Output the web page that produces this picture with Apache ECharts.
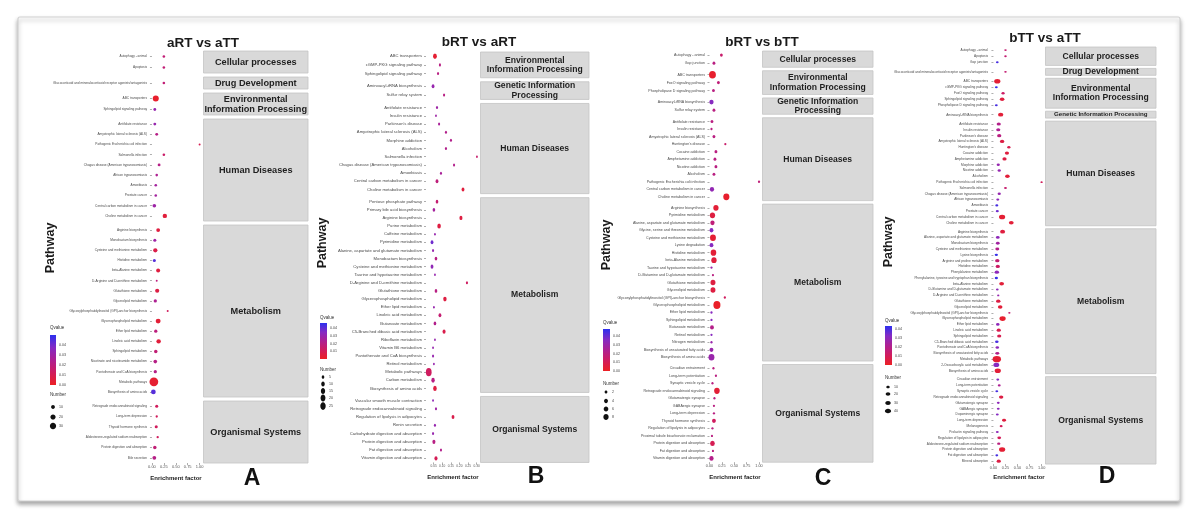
<!DOCTYPE html>
<html><head><meta charset="utf-8">
<script src="https://cdn.jsdelivr.net/npm/echarts@6/dist/echarts.min.js"></script>
<style>html,body{margin:0;padding:0;background:#fff}#c{width:1198px;height:530px}</style>
</head><body><div id="c"></div>
<script>
// ---------------- DATA ----------------
// Panel A: aRT vs aTT
const A_pathway = ["Autophagy - animal","Apoptosis","Glucocorticoid and mineralocorticoid receptor agonists/antagonists","ABC transporters","Sphingolipid signaling pathway","Antifolate resistance","Amyotrophic lateral sclerosis (ALS)","Pathogenic Escherichia coli infection","Salmonella infection","Chagas disease (American trypanosomiasis)","African trypanosomiasis","Amoebiasis","Prostate cancer","Central carbon metabolism in cancer","Choline metabolism in cancer","Arginine biosynthesis","Monobactam biosynthesis","Cysteine and methionine metabolism","Histidine metabolism","beta-Alanine metabolism","D-Arginine and D-ornithine metabolism","Glutathione metabolism","Glycerolipid metabolism","Glycosylphosphatidylinositol (GPI)-anchor biosynthesis","Glycerophospholipid metabolism","Ether lipid metabolism","Linoleic acid metabolism","Sphingolipid metabolism","Nicotinate and nicotinamide metabolism","Pantothenate and CoA biosynthesis","Metabolic pathways","Biosynthesis of amino acids","Retrograde endocannabinoid signaling","Long-term depression","Thyroid hormone synthesis","Aldosterone-regulated sodium reabsorption","Protein digestion and absorption","Bile secretion"];
const A_class = ["CP","CP","DD","EIP","EIP","HD","HD","HD","HD","HD","HD","HD","HD","HD","HD","M","M","M","M","M","M","M","M","M","M","M","M","M","M","M","M","M","OS","OS","OS","OS","OS","OS"];
const A_enrich = [0.25,0.25,0.25,0.08,0.06,0.06,0.10,1.00,0.25,0.15,0.10,0.08,0.08,0.05,0.27,0.13,0.06,0.07,0.05,0.13,0.10,0.11,0.07,0.33,0.13,0.08,0.14,0.08,0.07,0.07,0.04,0.03,0.10,0.10,0.09,0.12,0.06,0.05];
const A_qvalue = [0.018,0.018,0.018,0.002,0.032,0.032,0.022,0.010,0.015,0.022,0.025,0.028,0.028,0.030,0.005,0.006,0.030,0.008,0.044,0.006,0.020,0.007,0.025,0.012,0.004,0.020,0.005,0.018,0.022,0.022,0.003,0.044,0.012,0.012,0.012,0.012,0.018,0.022];
const A_number = [4,4,4,28,5,5,5,2,4,5,4,4,4,9,14,10,6,13,6,11,2,12,7,2,18,7,14,8,9,7,62,16,6,3,6,3,8,10];
const A_xTicks = [0,0.25,0.5,0.75,1.0];
const A_qBreaks = [0.04,0.03,0.02,0.01,0.00];
const A_numBreaks = [10,20,30];

// Panel B: bRT vs aRT
const B_pathway = ["ABC transporters","cGMP-PKG signaling pathway","Sphingolipid signaling pathway","Aminoacyl-tRNA biosynthesis","Sulfur relay system","Antifolate resistance","Insulin resistance","Parkinson's disease","Amyotrophic lateral sclerosis (ALS)","Morphine addiction","Alcoholism","Salmonella infection","Chagas disease (American trypanosomiasis)","Amoebiasis","Central carbon metabolism in cancer","Choline metabolism in cancer","Pentose phosphate pathway","Primary bile acid biosynthesis","Arginine biosynthesis","Purine metabolism","Caffeine metabolism","Pyrimidine metabolism","Alanine, aspartate and glutamate metabolism","Monobactam biosynthesis","Cysteine and methionine metabolism","Taurine and hypotaurine metabolism","D-Arginine and D-ornithine metabolism","Glutathione metabolism","Glycerophospholipid metabolism","Ether lipid metabolism","Linoleic acid metabolism","Butanoate metabolism","C5-Branched dibasic acid metabolism","Riboflavin metabolism","Vitamin B6 metabolism","Pantothenate and CoA biosynthesis","Retinol metabolism","Metabolic pathways","Carbon metabolism","Biosynthesis of amino acids","Vascular smooth muscle contraction","Retrograde endocannabinoid signaling","Regulation of lipolysis in adipocytes","Renin secretion","Carbohydrate digestion and absorption","Protein digestion and absorption","Fat digestion and absorption","Vitamin digestion and absorption"];
const B_class = ["EIP","EIP","EIP","GIP","GIP","HD","HD","HD","HD","HD","HD","HD","HD","HD","HD","HD","M","M","M","M","M","M","M","M","M","M","M","M","M","M","M","M","M","M","M","M","M","M","M","M","OS","OS","OS","OS","OS","OS","OS","OS"];
const B_enrich = [0.058,0.087,0.076,0.047,0.111,0.070,0.064,0.082,0.122,0.151,0.122,0.302,0.169,0.093,0.070,0.221,0.070,0.052,0.209,0.082,0.058,0.041,0.047,0.064,0.041,0.058,0.244,0.064,0.116,0.052,0.087,0.058,0.111,0.058,0.047,0.047,0.052,0.022,0.047,0.058,0.047,0.064,0.163,0.058,0.047,0.052,0.093,0.064];
const B_qvalue = [0.003,0.020,0.020,0.030,0.020,0.028,0.028,0.025,0.022,0.022,0.022,0.015,0.022,0.025,0.018,0.005,0.016,0.026,0.006,0.006,0.030,0.038,0.030,0.020,0.032,0.030,0.012,0.020,0.006,0.030,0.016,0.022,0.008,0.030,0.030,0.030,0.030,0.012,0.020,0.006,0.032,0.028,0.008,0.030,0.030,0.020,0.022,0.010];
const B_number = [12,3,3,6,3,3,2,3,3,3,3,2,3,3,6,6,5,5,7,10,2,6,3,5,6,2,3,5,9,2,6,5,7,2,2,3,2,28,9,10,2,3,6,3,3,7,3,7];
const B_xTicks = [0.05,0.10,0.15,0.20,0.25,0.30];
const B_qBreaks = [0.04,0.03,0.02,0.01];
const B_numBreaks = [5,10,15,20,25];

// Panel C: bRT vs bTT
const C_pathway = ["Autophagy - animal","Gap junction","ABC transporters","FoxO signaling pathway","Phospholipase D signaling pathway","Aminoacyl-tRNA biosynthesis","Sulfur relay system","Antifolate resistance","Insulin resistance","Amyotrophic lateral sclerosis (ALS)","Huntington's disease","Cocaine addiction","Amphetamine addiction","Nicotine addiction","Alcoholism","Pathogenic Escherichia coli infection","Central carbon metabolism in cancer","Choline metabolism in cancer","Arginine biosynthesis","Pyrimidine metabolism","Alanine, aspartate and glutamate metabolism","Glycine, serine and threonine metabolism","Cysteine and methionine metabolism","Lysine degradation","Histidine metabolism","beta-Alanine metabolism","Taurine and hypotaurine metabolism","D-Glutamine and D-glutamate metabolism","Glutathione metabolism","Glycerolipid metabolism","Glycosylphosphatidylinositol (GPI)-anchor biosynthesis","Glycerophospholipid metabolism","Ether lipid metabolism","Sphingolipid metabolism","Butanoate metabolism","Retinol metabolism","Nitrogen metabolism","Biosynthesis of unsaturated fatty acids","Biosynthesis of amino acids","Circadian entrainment","Long-term potentiation","Synaptic vesicle cycle","Retrograde endocannabinoid signaling","Glutamatergic synapse","GABAergic synapse","Long-term depression","Thyroid hormone synthesis","Regulation of lipolysis in adipocytes","Proximal tubule bicarbonate reclamation","Protein digestion and absorption","Fat digestion and absorption","Vitamin digestion and absorption"];
const C_class = ["CP","CP","EIP","EIP","EIP","GIP","GIP","HD","HD","HD","HD","HD","HD","HD","HD","HD","HD","HD","M","M","M","M","M","M","M","M","M","M","M","M","M","M","M","M","M","M","M","M","M","OS","OS","OS","OS","OS","OS","OS","OS","OS","OS","OS","OS","OS"];
const C_enrich = [0.24,0.09,0.06,0.18,0.08,0.04,0.09,0.05,0.04,0.09,0.32,0.13,0.11,0.13,0.09,1.00,0.05,0.34,0.13,0.06,0.06,0.04,0.07,0.04,0.08,0.09,0.04,0.07,0.07,0.07,0.31,0.15,0.04,0.04,0.05,0.04,0.04,0.04,0.04,0.08,0.13,0.06,0.15,0.10,0.09,0.09,0.09,0.06,0.05,0.06,0.07,0.04];
const C_qvalue = [0.015,0.020,0.002,0.018,0.020,0.035,0.020,0.020,0.020,0.020,0.015,0.020,0.020,0.020,0.020,0.018,0.032,0.002,0.004,0.006,0.018,0.035,0.003,0.035,0.004,0.005,0.030,0.020,0.006,0.006,0.012,0.001,0.035,0.035,0.022,0.035,0.030,0.030,0.030,0.020,0.020,0.020,0.004,0.020,0.020,0.020,0.012,0.020,0.020,0.010,0.020,0.022];
const C_number = [2,2,14,2,2,5,2,2,1,2,1,2,2,2,2,1,5,11,8,8,5,4,10,4,9,8,1,1,7,7,1,15,1,1,4,1,1,4,10,1,1,1,9,1,1,1,4,1,1,6,1,5];
const C_xTicks = [0,0.25,0.5,0.75,1.0];
const C_qBreaks = [0.04,0.03,0.02,0.01,0.00];
const C_numBreaks = [2,4,6,8];

// Panel D: bTT vs aTT
const D_pathway = ["Autophagy - animal","Apoptosis","Gap junction","Glucocorticoid and mineralocorticoid receptor agonists/antagonists","ABC transporters","cGMP-PKG signaling pathway","FoxO signaling pathway","Sphingolipid signaling pathway","Phospholipase D signaling pathway","Aminoacyl-tRNA biosynthesis","Antifolate resistance","Insulin resistance","Parkinson's disease","Amyotrophic lateral sclerosis (ALS)","Huntington's disease","Cocaine addiction","Amphetamine addiction","Morphine addiction","Nicotine addiction","Alcoholism","Pathogenic Escherichia coli infection","Salmonella infection","Chagas disease (American trypanosomiasis)","African trypanosomiasis","Amoebiasis","Prostate cancer","Central carbon metabolism in cancer","Choline metabolism in cancer","Arginine biosynthesis","Alanine, aspartate and glutamate metabolism","Monobactam biosynthesis","Cysteine and methionine metabolism","Lysine biosynthesis","Arginine and proline metabolism","Histidine metabolism","Phenylalanine metabolism","Phenylalanine, tyrosine and tryptophan biosynthesis","beta-Alanine metabolism","D-Glutamine and D-glutamate metabolism","D-Arginine and D-ornithine metabolism","Glutathione metabolism","Glycerolipid metabolism","Glycosylphosphatidylinositol (GPI)-anchor biosynthesis","Glycerophospholipid metabolism","Ether lipid metabolism","Linoleic acid metabolism","Sphingolipid metabolism","C5-Branched dibasic acid metabolism","Pantothenate and CoA biosynthesis","Biosynthesis of unsaturated fatty acids","Metabolic pathways","2-Oxocarboxylic acid metabolism","Biosynthesis of amino acids","Circadian entrainment","Long-term potentiation","Synaptic vesicle cycle","Retrograde endocannabinoid signaling","Glutamatergic synapse","GABAergic synapse","Dopaminergic synapse","Long-term depression","Melanogenesis","Prolactin signaling pathway","Regulation of lipolysis in adipocytes","Aldosterone-regulated sodium reabsorption","Protein digestion and absorption","Fat digestion and absorption","Mineral absorption"];
const D_class = ["CP","CP","CP","DD","EIP","EIP","EIP","EIP","EIP","GIP","HD","HD","HD","HD","HD","HD","HD","HD","HD","HD","HD","HD","HD","HD","HD","HD","HD","HD","M","M","M","M","M","M","M","M","M","M","M","M","M","M","M","M","M","M","M","M","M","M","M","M","M","OS","OS","OS","OS","OS","OS","OS","OS","OS","OS","OS","OS","OS","OS","OS"];
const D_enrich = [0.25,0.25,0.08,0.25,0.08,0.06,0.20,0.18,0.06,0.15,0.11,0.10,0.12,0.18,0.32,0.28,0.23,0.10,0.12,0.29,1.00,0.25,0.12,0.09,0.07,0.08,0.18,0.37,0.19,0.09,0.09,0.08,0.06,0.08,0.09,0.07,0.06,0.17,0.08,0.10,0.10,0.14,0.33,0.19,0.09,0.11,0.12,0.07,0.08,0.08,0.07,0.06,0.09,0.09,0.12,0.07,0.16,0.10,0.10,0.08,0.22,0.16,0.08,0.12,0.11,0.18,0.07,0.11];
const D_qvalue = [0.015,0.015,0.040,0.015,0.003,0.042,0.012,0.005,0.040,0.004,0.020,0.022,0.018,0.006,0.008,0.005,0.006,0.028,0.028,0.004,0.010,0.014,0.028,0.030,0.040,0.035,0.003,0.004,0.005,0.030,0.025,0.020,0.042,0.015,0.012,0.030,0.042,0.004,0.030,0.028,0.006,0.004,0.015,0.002,0.030,0.008,0.008,0.040,0.030,0.020,0.003,0.032,0.004,0.032,0.022,0.040,0.006,0.030,0.030,0.032,0.005,0.010,0.030,0.010,0.018,0.003,0.040,0.006];
const D_number = [4,4,5,4,40,6,8,20,6,28,16,15,16,18,8,16,16,8,8,20,3,6,8,7,7,7,40,22,24,12,12,14,8,18,16,18,8,22,5,3,18,20,3,40,10,16,16,10,10,14,80,35,40,6,6,6,18,6,6,6,14,6,6,12,8,40,6,16];
const D_xTicks = [0,0.25,0.5,0.75,1.0];
const D_qBreaks = [0.04,0.03,0.02,0.01,0.00];
const D_numBreaks = [10,20,30,40];

const TITLES = ["aRT vs aTT","bRT vs aRT","bRT vs bTT","bTT vs aTT"];
const LETTERS = ["A","B","C","D"];
const STRIPS = {CP:"Cellular processes", DD:"Drug Development", EIP:"Environmental\nInformation Processing", GIP:"Genetic Information\nProcessing", HD:"Human Diseases", M:"Metabolism", OS:"Organismal Systems"};

// ---------------- LAYOUT ----------------
const PANELS = [
  {pathway:A_pathway, cls:A_class, enrich:A_enrich, q:A_qvalue, num:A_number, xTicks:A_xTicks, qBreaks:A_qBreaks, numBreaks:A_numBreaks},
  {pathway:B_pathway, cls:B_class, enrich:B_enrich, q:B_qvalue, num:B_number, xTicks:B_xTicks, qBreaks:B_qBreaks, numBreaks:B_numBreaks},
  {pathway:C_pathway, cls:C_class, enrich:C_enrich, q:C_qvalue, num:C_number, xTicks:C_xTicks, qBreaks:C_qBreaks, numBreaks:C_numBreaks},
  {pathway:D_pathway, cls:D_class, enrich:D_enrich, q:D_qvalue, num:D_number, xTicks:D_xTicks, qBreaks:D_qBreaks, numBreaks:D_numBreaks}
];
const GEOM = [
  {plotL:151, plotR:202, stripR:308, top:51, step:10, gap:4, xMin:-0.02, xMax:1.05, fmt:2, lblFont:3.2, tickFont:4.0, asp:1.0, d0:0.5, dk:1.05, qMax:0.05, stripFont:9.2,
   titleX:203, titleY:43, pathX:51, pathY:248, efX:176, efY:478, letX:252, letY:479,
   legX:50, qTitleY:328, barTop:335, barBot:385, barW:6, numTitleY:395, dotX:53, dotY:[407,417,426]},
  {plotL:426, plotR:479, stripR:589, top:52, step:8.05, gap:4, xMin:0.006, xMax:0.314, fmt:2, lblFont:4.2, tickFont:3.2, asp:0.7, d0:0.5, dk:1.45, qMax:0.047, stripFont:8.6,
   titleX:479, titleY:42, pathX:323, pathY:243, efX:453, efY:477, letX:536, letY:477,
   legX:320, qTitleY:318, barTop:323, barBot:359, barW:7, numTitleY:370, dotX:323, dotY:[377,384,391,398,406]},
  {plotL:709, plotR:761, stripR:873, top:51, step:7.4, gap:3.5, xMin:-0.01, xMax:1.04, fmt:2, lblFont:3.6, tickFont:3.8, asp:0.9, d0:0.5, dk:1.9, qMax:0.048, stripFont:8.6,
   titleX:762, titleY:42, pathX:607, pathY:245, efX:735, efY:477, letX:823, letY:479,
   legX:603, qTitleY:323, barTop:329, barBot:371, barW:7, numTitleY:384, dotX:606, dotY:[392,401,409,417]},
  {plotL:992, plotR:1044, stripR:1156, top:47, step:5.75, gap:3, xMin:-0.03, xMax:1.05, fmt:2, lblFont:3.2, tickFont:3.8, asp:1.35, d0:0.6, dk:0.63, qMax:0.0433, stripFont:8.6,
   titleX:1045, titleY:38, pathX:889, pathY:242, efX:1019, efY:477, letX:1107, letY:477,
   legX:885, qTitleY:321, barTop:326, barBot:365, barW:7, numTitleY:378, dotX:888, dotY:[387,394,403,411]}
];
const STOPS = ['#ec2024','#d01c5e','#ae2092','#842bc4','#2c30ee'];
const FONT = '"Liberation Sans", Arial, sans-serif';

function sizeOf(G, n){ const h = G.d0 + G.dk*Math.sqrt(n); return [h*G.asp, h]; }
function groupFacets(cls){
  const order=[], groups={};
  cls.forEach((c,i)=>{ if(!groups[c]){groups[c]=[];order.push(c);} groups[c].push(i); });
  return order.map(c=>({c, idx:groups[c]}));
}
function txt(text, x, y, font, fill, align, vAlign, extra, lh){
  const st = {text:text, x:0, y:0, font:font, fill:fill||'#222', align:align||'center', verticalAlign:vAlign||'middle',
              textAlign:align||'center', textVerticalAlign:vAlign||'middle'};
  if (lh) st.lineHeight = lh;
  return Object.assign({type:'text', silent:true, z:10, x:x, y:y, style:st}, extra||{});
}

const grids=[], xAxes=[], yAxes=[], series=[], visualMaps=[], graphics=[];
graphics.push({type:'rect', silent:true, z:0, shape:{x:18, y:17, width:1162, height:484, r:2},
  style:{fill:'#fff', stroke:'#d2d2d2', lineWidth:1.2, shadowBlur:4, shadowOffsetY:3, shadowColor:'rgba(0,0,0,0.35)'}});

PANELS.forEach((P, pi)=>{
  const G = GEOM[pi];
  const groups = groupFacets(P.cls);
  let y = G.top;
  const sIdx = [];
  groups.forEach((grp, gi)=>{
    const n = grp.idx.length, h = (n+0.2)*G.step;
    const k = grids.length;
    const last = gi === groups.length-1;
    grids.push({left:G.plotL, top:y, width:G.plotR-G.plotL, height:h, show:true, backgroundColor:'#fff',
      borderColor:'#bdbdbd', borderWidth:0.8, containLabel:false, outerBoundsMode:'none'});
    xAxes.push({type:'value', gridIndex:k, min:G.xMin, max:G.xMax, show:last,
      axisLine:{show:false}, splitLine:{show:false},
      axisTick:{show:true, customValues:P.xTicks, length:2, lineStyle:{color:'#777', width:0.6}},
      axisLabel:{customValues:P.xTicks, formatter:v=>Number(v).toFixed(G.fmt), fontSize:G.tickFont, color:'#555', margin:2, fontFamily:FONT}});
    yAxes.push({type:'category', gridIndex:k, inverse:true, data:grp.idx.map(i=>P.pathway[i]),
      axisLine:{show:false}, splitLine:{show:false},
      axisTick:{show:true, length:2, alignWithLabel:true, lineStyle:{color:'#777', width:0.6}},
      axisLabel:{interval:0, fontSize:G.lblFont, color:'#4a4a4a', margin:4, fontFamily:FONT}});
    sIdx.push(series.length);
    series.push({type:'scatter', xAxisIndex:k, yAxisIndex:k, silent:true, animation:false, z:3,
      data:grp.idx.map(i=>[P.enrich[i], P.pathway[i], P.q[i], P.num[i]]),
      encode:{x:0, y:1},
      symbolSize:(v)=>sizeOf(G, v[3]), itemStyle:{opacity:1}});
    // facet strip
    const sx = G.plotR+1.5, sw = G.stripR-G.plotR-1.5;
    graphics.push({type:'rect', silent:true, z:5, shape:{x:sx, y:y, width:sw, height:h},
      style:{fill:'#d9d9d9', stroke:'#c4c4c4', lineWidth:0.8}});
    let label = STRIPS[grp.c], fs = G.stripFont;
    if (pi===3 && grp.c==='GIP'){ label = 'Genetic Information Processing'; fs = 6.2; }
    graphics.push(txt(label, sx+sw/2, y+h/2, 'bold '+fs+'px '+FONT, '#1f1f1f', 'center', 'middle', null, fs*1.08));
    y += h + G.gap;
  });
  visualMaps.push({type:'continuous', show:false, seriesIndex:sIdx, dimension:2, min:0, max:G.qMax, inRange:{color:STOPS}});

  // titles and axis titles
  graphics.push(txt(TITLES[pi], G.titleX, G.titleY, 'bold 13.5px '+FONT, '#1a1a1a'));
  graphics.push(txt('Enrichment factor', G.efX, G.efY, 'bold 6px '+FONT, '#1a1a1a'));
  graphics.push(txt(LETTERS[pi], G.letX, G.letY, 'bold 23px '+FONT, '#111'));
  graphics.push(txt('Pathway', G.pathX, G.pathY, 'bold 12.5px '+FONT, '#1a1a1a', 'center', 'middle', {rotation:Math.PI/2}));

  // Qvalue colour bar legend
  graphics.push(txt('Qvalue', G.legX, G.qTitleY, '4.5px '+FONT, '#333', 'left', 'middle'));
  graphics.push({type:'rect', silent:true, z:6, shape:{x:G.legX, y:G.barTop, width:G.barW, height:G.barBot-G.barTop},
    style:{fill:new echarts.graphic.LinearGradient(0,0,0,1, STOPS.map((c,i)=>({offset:1-i/(STOPS.length-1), color:c})).reverse())}});
  P.qBreaks.forEach(qb=>{
    const yy = G.barBot - (qb/G.qMax)*(G.barBot-G.barTop);
    graphics.push(txt(qb.toFixed(2), G.legX+G.barW+3, yy, '3.6px '+FONT, '#444', 'left', 'middle'));
  });
  // Number legend
  graphics.push(txt('Number', G.legX, G.numTitleY, '4.5px '+FONT, '#333', 'left', 'middle'));
  P.numBreaks.forEach((nb, i)=>{
    const s = sizeOf(G, nb);
    graphics.push({type:'ellipse', silent:true, z:6, shape:{cx:G.dotX, cy:G.dotY[i], rx:s[0]/2, ry:s[1]/2}, style:{fill:'#111'}});
    graphics.push(txt(String(nb), G.dotX+6, G.dotY[i], '3.6px '+FONT, '#444', 'left', 'middle'));
  });
});

const chart = echarts.init(document.getElementById('c'), null, {renderer:'canvas', width:1198, height:530});
chart.setOption({
  backgroundColor:'#fff', animation:false,
  grid:grids, xAxis:xAxes, yAxis:yAxes, series:series, visualMap:visualMaps, graphic:{elements:graphics}
});
</script>
</body></html>
